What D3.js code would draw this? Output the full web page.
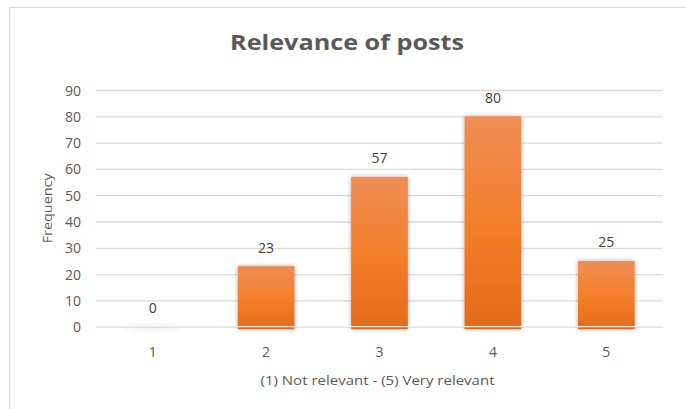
<!DOCTYPE html>
<html><head><meta charset="utf-8">
<script src="https://cdn.jsdelivr.net/npm/d3@7"></script>
<style>html,body{margin:0;padding:0;background:#fff;}svg{display:block;}</style>
</head><body>
<svg id="c" width="686" height="409"></svg>
<script>
const categories = ["1","2","3","4","5"];
const values = [0, 23, 57, 80, 25];
const yTicks = [0,10,20,30,40,50,60,70,80,90];
const titleText = "Relevance of posts";
const xTitle = "(1) Not relevant - (5) Very relevant";
const yTitle = "Frequency";

const svg = d3.select("#c");
const m = {left: 96, right: 663, top: 90, bottom: 326.7};
const txt = "#595959";
const font = "'Open Sans', sans-serif";

svg.append("rect").attr("x", 9.5).attr("y", 7.5).attr("width", 700).attr("height", 420)
  .attr("fill", "#fff").attr("stroke", "#d9d9d9").attr("stroke-width", 1.2);

const defs = svg.append("defs");
const g = defs.append("linearGradient").attr("id", "bg").attr("x1", 0).attr("y1", 0).attr("x2", 0).attr("y2", 1);
g.append("stop").attr("offset", "0%").attr("stop-color", "#EF8D56");
g.append("stop").attr("offset", "50%").attr("stop-color", "#F47F2B");
g.append("stop").attr("offset", "100%").attr("stop-color", "#E26B19");
const f = defs.append("filter").attr("id", "sh").attr("x", "-30%").attr("y", "-30%").attr("width", "160%").attr("height", "160%");
f.append("feDropShadow").attr("dx", 0).attr("dy", 0).attr("stdDeviation", 2.2)
  .attr("flood-color", "#000").attr("flood-opacity", 0.35);
const f2 = defs.append("filter").attr("id", "blur0").attr("x", "-50%").attr("y", "-200%").attr("width", "200%").attr("height", "500%");
f2.append("feGaussianBlur").attr("stdDeviation", 3);

const x = d3.scaleBand().domain(categories).range([m.left, m.right]).paddingInner(0.5).paddingOuter(0.25);
const y = d3.scaleLinear().domain([0, 90]).range([m.bottom, m.top]);

// gridlines
const yAxis = d3.axisLeft(y).tickValues(yTicks).tickSize(-(m.right - m.left)).tickPadding(15);
const ya = svg.append("g").attr("transform", `translate(${m.left},0)`).call(yAxis);
ya.select(".domain").remove();
ya.selectAll(".tick line").attr("stroke", "#d9d9d9").attr("stroke-width", 1.3);
ya.selectAll(".tick text").attr("fill", txt).attr("font-family", font).attr("font-size", 14).attr("x", -15).attr("dy", "0.36em");

// zero-height bar shadow
svg.append("g").selectAll("ellipse").data(values.filter(d => d === 0)).join("ellipse")
  .attr("cx", (d) => x(categories[values.indexOf(d)]) + x.bandwidth() / 2)
  .attr("cy", y(0) + 1).attr("rx", x.bandwidth() / 2).attr("ry", 1.5)
  .attr("fill", "#bbb").attr("opacity", 0.5).attr("filter", "url(#blur0)");

// bars
svg.append("g").selectAll("rect").data(values).join("rect")
  .attr("x", (d, i) => x(categories[i]))
  .attr("width", x.bandwidth())
  .attr("y", d => y(d))
  .attr("height", d => d > 0 ? m.bottom - y(d) + 2.5 : 0)
  .attr("fill", "url(#bg)")
  .attr("filter", "url(#sh)");

// baseline
svg.append("line").attr("x1", m.left).attr("x2", m.right).attr("y1", m.bottom).attr("y2", m.bottom)
  .attr("stroke", "#ececec").attr("stroke-width", 1.3);

// x axis labels
const xAxis = d3.axisBottom(x).tickSize(0).tickPadding(0);
const xa = svg.append("g").attr("transform", `translate(0,${m.bottom})`).call(xAxis);
xa.select(".domain").remove();
xa.selectAll(".tick text").attr("fill", txt).attr("font-family", font).attr("font-size", 14).attr("y", 30).attr("dy", 0);

// data labels
svg.append("g").selectAll("text").data(values).join("text")
  .attr("x", (d, i) => x(categories[i]) + x.bandwidth() / 2)
  .attr("y", d => y(d) - 13.5)
  .attr("text-anchor", "middle").attr("fill", "#404040")
  .attr("font-family", font).attr("font-size", 14)
  .text(d => d);

// title
svg.append("text").attr("x", 347).attr("y", 50).attr("text-anchor", "middle")
  .attr("fill", txt).attr("font-family", font).attr("font-weight", "bold").attr("font-size", 21)
  .attr("textLength", 234).attr("lengthAdjust", "spacingAndGlyphs").text(titleText);

// x title
svg.append("text").attr("x", (m.left + m.right) / 2 - 2).attr("y", 385).attr("text-anchor", "middle")
  .attr("fill", txt).attr("font-family", font).attr("font-size", 13.5)
  .attr("textLength", 234).attr("lengthAdjust", "spacingAndGlyphs").text(xTitle);

// y title
svg.append("text").attr("transform", `translate(52,${(m.top + m.bottom) / 2}) rotate(-90)`)
  .attr("text-anchor", "middle").attr("fill", txt).attr("font-family", font).attr("font-size", 13)
  .attr("textLength", 70).attr("lengthAdjust", "spacingAndGlyphs").text(yTitle);
</script>
</body></html>
